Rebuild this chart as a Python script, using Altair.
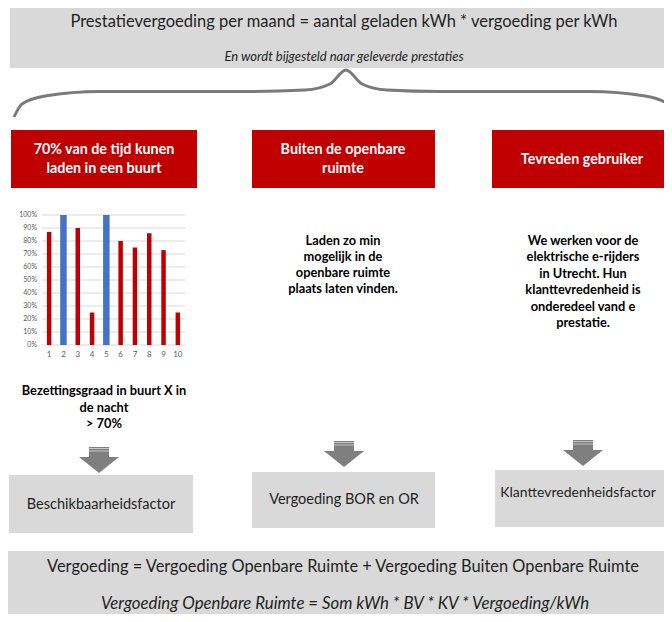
import altair as alt
import pandas as pd

# ---------------- data of the small bar chart ----------------
buurten = [1, 2, 3, 4, 5, 6, 7, 8, 9, 10]
bezetting = [0.87, 1.00, 0.90, 0.25, 1.00, 0.80, 0.75, 0.86, 0.73, 0.25]
groep = ["rood", "blauw", "rood", "rood", "blauw", "rood", "rood", "rood", "rood", "rood"]
y_ticks = [0, 0.1, 0.2, 0.3, 0.4, 0.5, 0.6, 0.7, 0.8, 0.9, 1.0]
y_tick_labels = ["0%", "10%", "20%", "30%", "40%", "50%", "60%", "70%", "80%", "90%", "100%"]

# ---------------- texts ----------------
title = "Prestatievergoeding per maand = aantal geladen kWh * vergoeding per kWh"
subtitle = "En wordt bijgesteld naar geleverde prestaties"
header_lines = [["70% van de tijd kunen", "laden in een buurt"],
                ["Buiten de openbare", "ruimte"],
                ["Tevreden gebruiker"]]
body_lines = [["Bezettingsgraad in buurt X in", "de nacht", "> 70%"],
              ["Laden zo min", "mogelijk in de", "openbare ruimte", "plaats laten vinden."],
              ["We werken voor de", "elektrische e-rijders", "in Utrecht. Hun",
               "klanttevredenheid is", "onderedeel vand e", "prestatie."]]
factor_labels = ["Beschikbaarheidsfactor", "Vergoeding BOR en OR", "Klanttevredenheidsfactor"]
formula_1 = "Vergoeding = Vergoeding Openbare Ruimte + Vergoeding Buiten Openbare Ruimte"
formula_2 = "Vergoeding Openbare Ruimte = Som kWh * BV * KV * Vergoeding/kWh"

# ---------------- layout (page pixels) ----------------
OFF = 8
W, H = 656, 606
FONT = "Lato"
GREY_FILL = "#d9d9d9"
RED_FILL = "#c00000"
ARROW = "#7f7f7f"
DARK = "#1f1f1f"


def P(v):
    return v - OFF


grey_boxes = [(10, 7, 672, 68), (9, 475, 193, 533), (252, 472, 435, 528),
              (495, 470, 672, 527), (7, 551, 672, 622)]
red_boxes = [(11, 130, 197, 188), (252, 130, 435, 188), (492, 130, 672, 188)]
header_pos = [(104, [150, 169]), (343, [150, 169]), (582, [160])]
body_pos = [(104, [391, 408, 424]), (343, [241, 257, 273, 289]),
            (583, [241, 257, 274, 290, 307, 323])]
factor_pos = [(101, 505), (344, 500), (578, 493)]
arrows = [(99, 447), (344, 441), (583, 440)]  # centre x, top y
brace_pts = [(14, 117), (22, 104), (45, 96), (100, 91.5), (250, 91.5), (305, 90),
             (330, 84), (346, 70), (362, 84), (387, 90), (440, 91.5), (590, 91.5),
             (645, 96), (668, 104), (676, 117)]

X_NONE = dict(scale=None, axis=None)


def rect_df(boxes):
    return pd.DataFrame({"x": [P(b[0]) for b in boxes], "x2": [P(b[2]) for b in boxes],
                         "y": [P(b[1]) for b in boxes], "y2": [P(b[3]) for b in boxes]})


def rect_layer(boxes, color, opacity=1.0):
    return alt.Chart(rect_df(boxes)).mark_rect(color=color, opacity=opacity).encode(
        x=alt.X("x:Q", **X_NONE), x2="x2:Q",
        y=alt.Y("y:Q", **X_NONE), y2="y2:Q")


def text_layer(rows, size, color=DARK, weight="normal", style="normal"):
    df = pd.DataFrame(rows, columns=["x", "y", "t"])
    df["x"] = df["x"].map(P)
    df["y"] = df["y"].map(P)
    return alt.Chart(df).mark_text(font=FONT, fontSize=size, fontWeight=weight,
                                   fontStyle=style, color=color, align="center",
                                   baseline="middle").encode(
        x=alt.X("x:Q", **X_NONE), y=alt.Y("y:Q", **X_NONE), text="t:N")


layers = []
layers.append(rect_layer(grey_boxes, GREY_FILL))
layers.append(rect_layer(red_boxes, RED_FILL))

# brace
brace_df = pd.DataFrame({"x": [P(p[0]) for p in brace_pts], "y": [P(p[1]) for p in brace_pts],
                         "o": list(range(len(brace_pts)))})
layers.append(alt.Chart(brace_df).mark_line(color="#7a7a7a", strokeWidth=2.8,
                                            interpolate="monotone").encode(
    x=alt.X("x:Q", **X_NONE), y=alt.Y("y:Q", **X_NONE), order="o:Q"))

# arrows
shafts = [(cx - 10, ty, cx + 10, ty + 11) for cx, ty in arrows]
layers.append(rect_layer(shafts, ARROW))
stripes = []
for cx, ty in arrows:
    stripes.append((cx - 10, ty + 1, cx + 10, ty + 2))
    stripes.append((cx - 10, ty + 3.5, cx + 10, ty + 4.5))
layers.append(rect_layer(stripes, "#ffffff", 0.55))
head_df = pd.DataFrame({"x": [P(cx) for cx, ty in arrows], "y": [P(ty + 10) for cx, ty in arrows]})
layers.append(alt.Chart(head_df).mark_point(shape="M -20 0 L 20 0 L 0 16 Z", size=4,
                                            filled=True, color=ARROW, opacity=1,
                                            strokeWidth=0).encode(
    x=alt.X("x:Q", **X_NONE), y=alt.Y("y:Q", **X_NONE)))

# texts
layers.append(text_layer([(344, 22, title)], 16.5))
layers.append(text_layer([(344, 57, subtitle)], 13, style="italic"))
hdr_rows = []
for (cx, ys), lines in zip(header_pos, header_lines):
    for yy, s in zip(ys, lines):
        hdr_rows.append((cx, yy, s))
layers.append(text_layer(hdr_rows, 14.3, color="#ffffff", weight="bold"))
body_rows = []
for (cx, ys), lines in zip(body_pos, body_lines):
    for yy, s in zip(ys, lines):
        body_rows.append((cx, yy, s))
layers.append(text_layer(body_rows, 12.8, color="#000000", weight="bold"))
layers.append(text_layer([(p[0], p[1], s) for p, s in zip(factor_pos[:2], factor_labels[:2])], 14.5))
layers.append(text_layer([(factor_pos[2][0], factor_pos[2][1], factor_labels[2])], 14))
layers.append(text_layer([(343, 567, formula_1)], 16.4))
layers.append(text_layer([(345, 604, formula_2)], 16.8, style="italic"))

decor = alt.layer(*layers)

# ---------------- bar chart (own scales) ----------------
bar_df = pd.DataFrame({"buurt": buurten, "bezetting": bezetting, "groep": groep})
tick_df = pd.DataFrame({"tick": y_ticks, "label": y_tick_labels})

xs = alt.Scale(domain=buurten, range=[P(42), P(185)], paddingInner=0, paddingOuter=0)
ys = alt.Scale(domain=[0, 1], range=[P(345), P(215)])
cs = alt.Scale(domain=["rood", "blauw"], range=["#c00000", "#4472c4"])

grid = alt.Chart(tick_df).mark_rule(color="#d9d9d9", strokeWidth=1).encode(
    y=alt.Y("tick:Q", scale=ys, axis=None),
    x=alt.value(P(42)), x2=alt.value(P(185)))
ylab = alt.Chart(tick_df).mark_text(font=FONT, fontSize=7, color="#595959",
                                    align="right", baseline="middle").encode(
    y=alt.Y("tick:Q", scale=ys, axis=None), x=alt.value(P(37)), text="label:N")
bars_red = alt.Chart(bar_df).transform_filter(alt.datum.groep == "rood").mark_bar(width=4.5).encode(
    x=alt.X("buurt:O", scale=xs, axis=None),
    y=alt.Y("bezetting:Q", scale=ys, axis=None),
    color=alt.Color("groep:N", scale=cs, legend=None))
bars_blue = alt.Chart(bar_df).transform_filter(alt.datum.groep == "blauw").mark_bar(width=6.5).encode(
    x=alt.X("buurt:O", scale=xs, axis=None),
    y=alt.Y("bezetting:Q", scale=ys, axis=None),
    color=alt.Color("groep:N", scale=cs, legend=None))
xlab = alt.Chart(bar_df).mark_text(font=FONT, fontSize=8, color="#595959",
                                   baseline="middle").encode(
    x=alt.X("buurt:O", scale=xs, axis=None), y=alt.value(P(355)), text="buurt:N")

barchart = alt.layer(grid, bars_red, bars_blue, ylab, xlab)

chart = alt.layer(decor, barchart).resolve_scale(
    x="independent", y="independent", color="independent"
).properties(
    width=W, height=H, padding=0,
    autosize=alt.AutoSizeParams(type="none"),
    background="#ffffff",
).configure_view(stroke=None)

chart.save("out.html", embed_options={"renderer": "svg", "actions": False})
